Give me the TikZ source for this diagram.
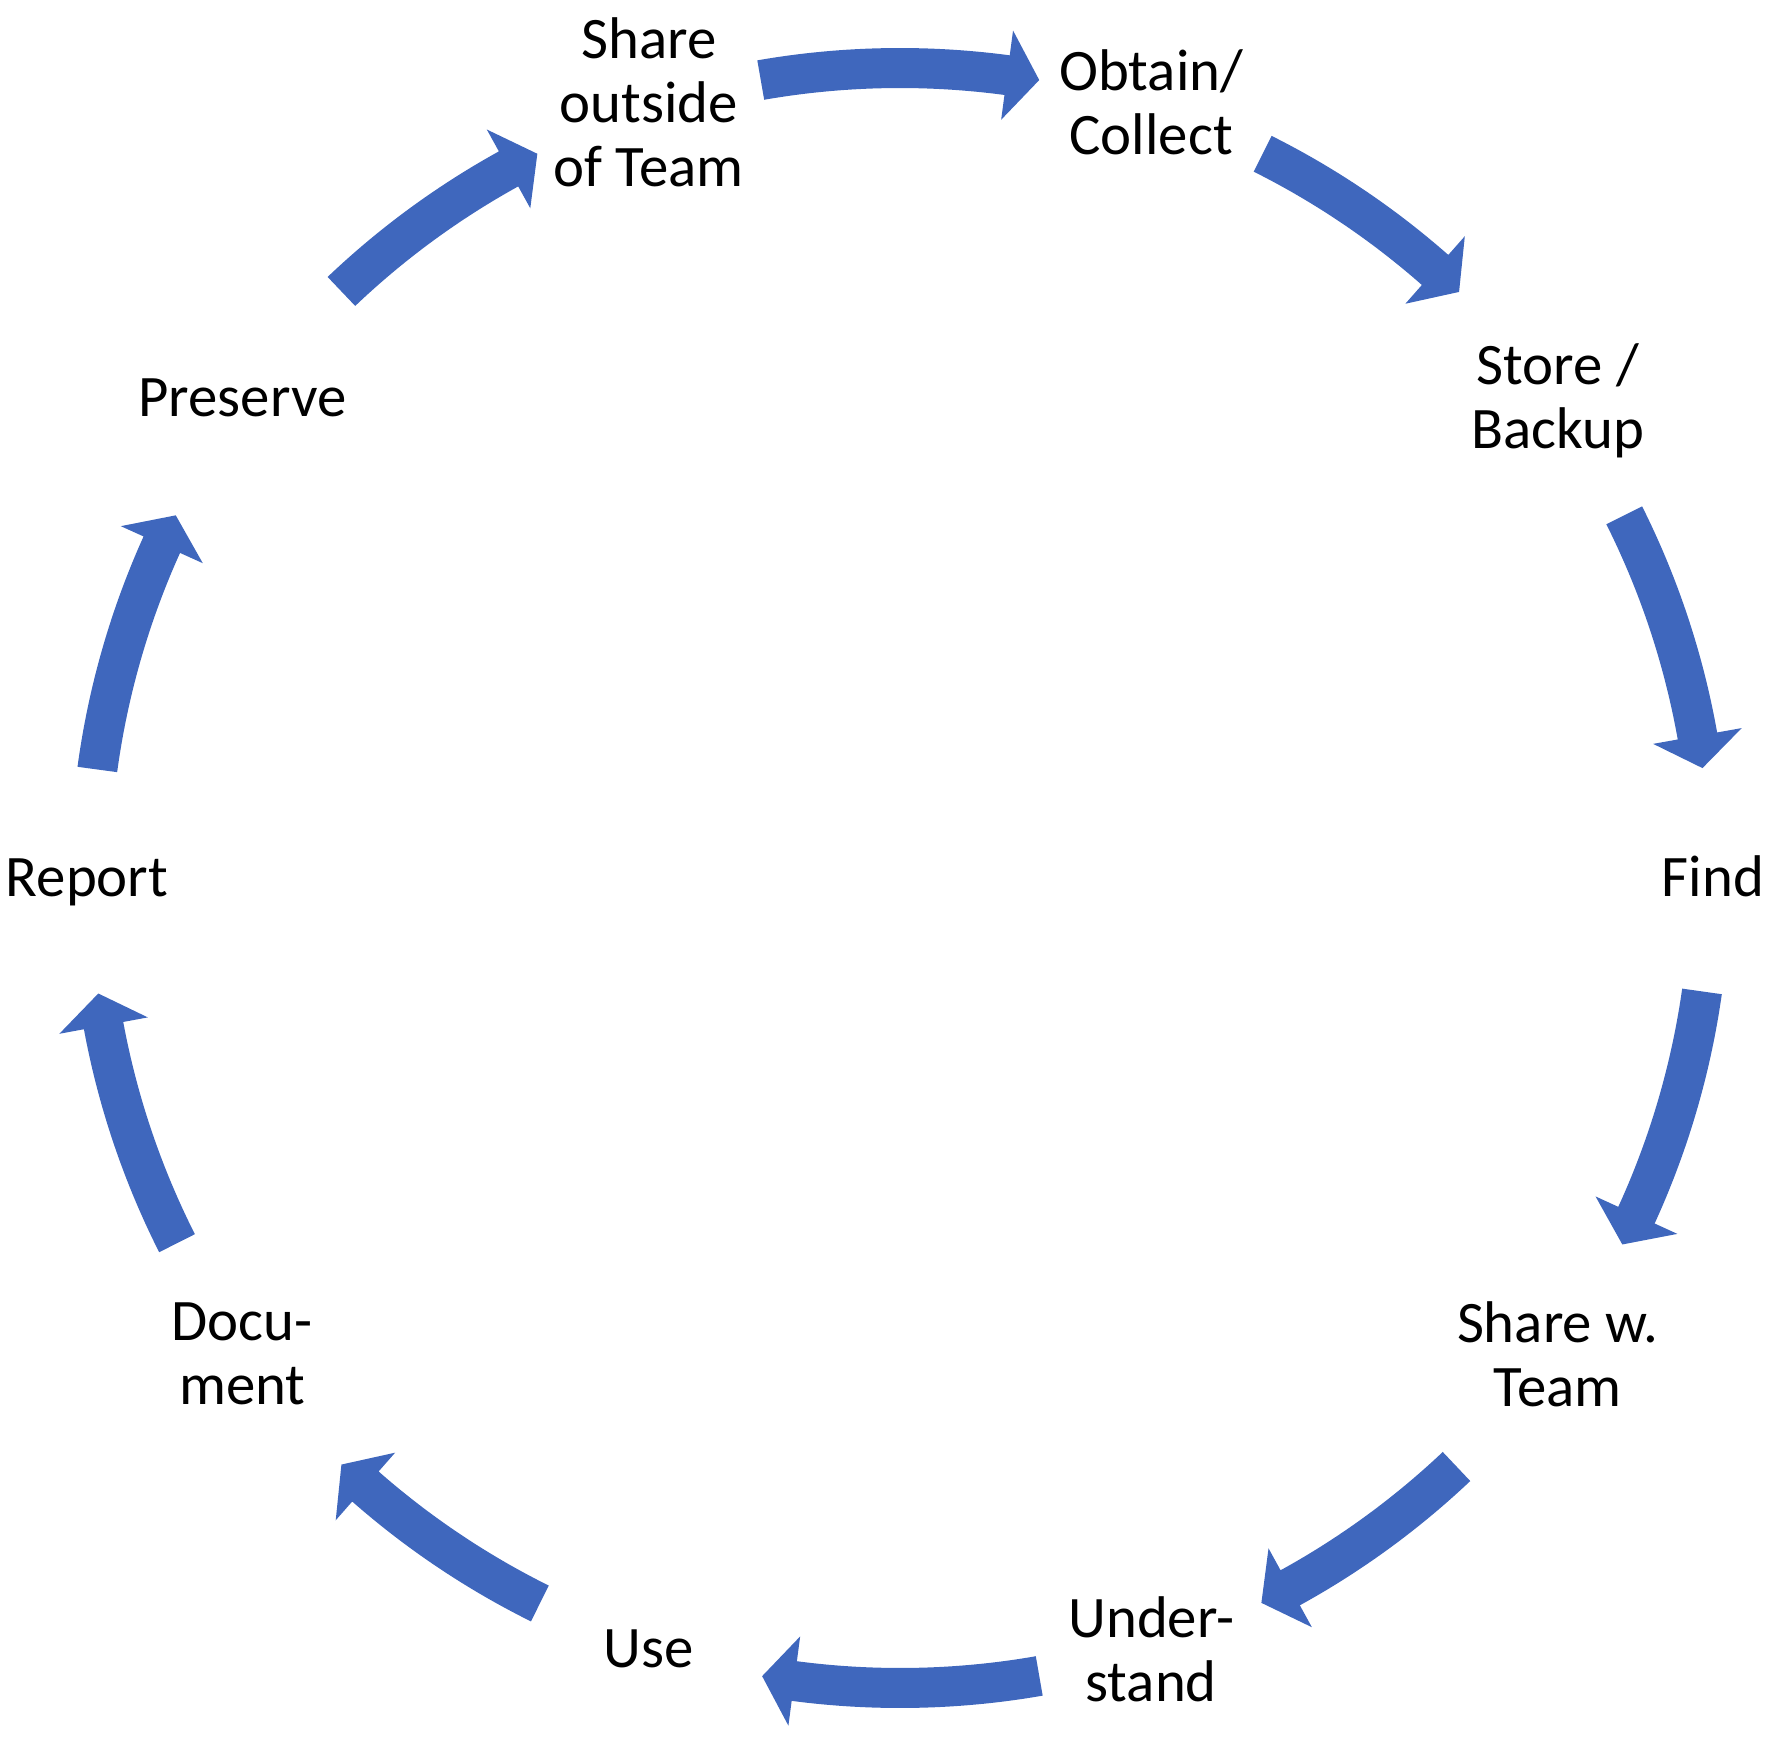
\documentclass[tikz,border=0pt]{standalone}
\usepackage{fontspec}
\setmainfont{Carlito}
\definecolor{arrowblue}{RGB}{63,103,189}
\begin{document}
\begin{tikzpicture}[x=0.5pt,y=0.5pt,
  lbl/.style={align=center,inner sep=0pt,font=\fontsize{29.4pt}{32pt}\selectfont,text=black}]
\useasboundingbox (-900,-874) rectangle (872,876);
% labels
\node[lbl] (shareout) at (108:813) {Share\\outside\\of Team};
\node[lbl] (obtain)   at (72:813)  {Obtain/\\Collect};
\node[lbl,yshift=-1.5pt] (store)    at (36:813)  {Store /\\Backup};
\node[lbl] (find)     at (0:813)   {Find};
\node[lbl] (shareteam) at (-36:813) {Share w.\\Team};
\node[lbl] (understand) at (-72:813) {Under-\\stand};
\node[lbl] (use)      at (-108:813) {Use};
\node[lbl] (document) at (-144:813) {Docu-\\ment};
\node[lbl,yshift=-3pt] (report)   at (180:813) {Report};
\node[lbl] (preserve) at (144:813) {Preserve};
% curved block arrows (clockwise): tail angle / tip angle
\begin{scope}[yshift=-1pt]
\foreach \aa/\ab in {99.9/80.1, 63.4/46.35, 26.6/7.8, -8.05/-26.9, -46.6/-63.5,
                     -80.1/-99.8, -116.4/-133.6, -153.2/-171.8, 172.3/153.4, 133.6/116.6}{
  \pgfmathsetmacro{\hb}{\ab+2.3}
  \fill[arrowblue] (\aa:830) arc[start angle=\aa, end angle=\hb, radius=830]
    -- (\hb:855) -- (\ab:810) -- (\hb:765) -- (\hb:790)
    arc[start angle=\hb, end angle=\aa, radius=790] -- cycle;
}
\end{scope}
\end{tikzpicture}
\end{document}
